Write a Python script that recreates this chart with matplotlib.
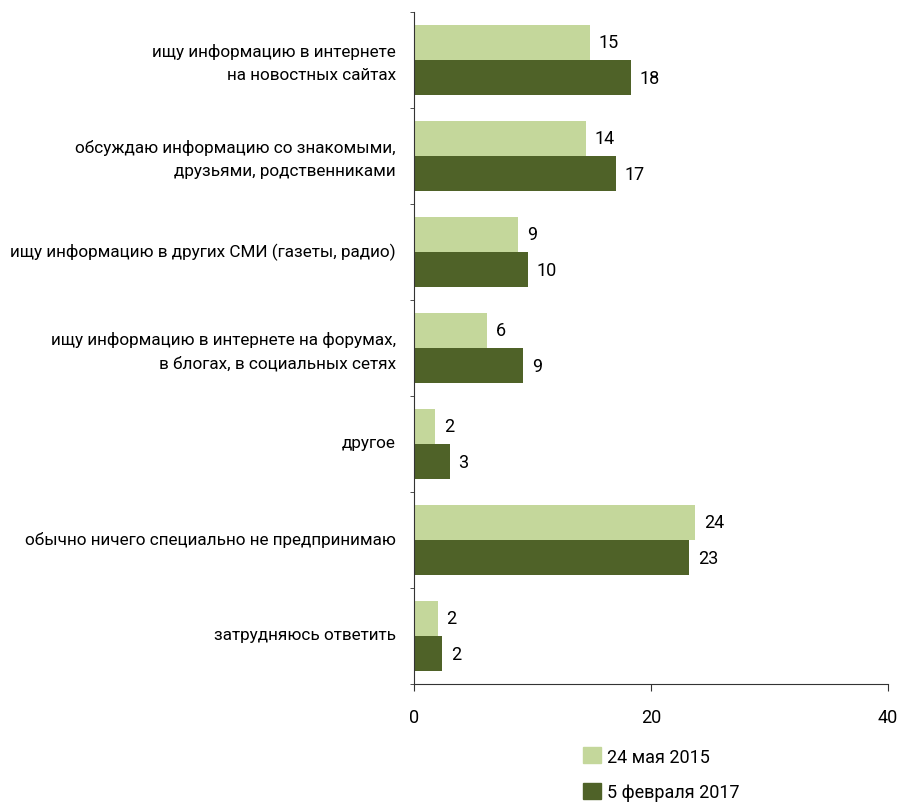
import matplotlib
matplotlib.use("Agg")
import matplotlib.pyplot as plt
import numpy as np
from matplotlib.patches import Patch

plt.rcParams['font.family'] = ['Roboto', 'DejaVu Sans']

categories = [
    "ищу информацию в интернете\nна новостных сайтах",
    "обсуждаю информацию со знакомыми,\nдрузьями, родственниками",
    "ищу информацию в других СМИ (газеты, радио)",
    "ищу информацию в интернете на форумах,\nв блогах, в социальных сетях",
    "другое",
    "обычно ничего специально не предпринимаю",
    "затрудняюсь ответить",
]
# bar lengths, labels are the rounded values
vals_2015 = [14.85, 14.5, 8.8, 6.2, 1.8, 23.7, 2.0]
vals_2017 = [18.3, 17.05, 9.6, 9.2, 3.0, 23.2, 2.4]
labels_2015 = [15, 14, 9, 6, 2, 24, 2]
labels_2017 = [18, 17, 10, 9, 3, 23, 2]
series_names = ["24 мая 2015", "5 февраля 2017"]
xticks = [0, 20, 40]

light = "#C4D79B"
dark = "#4F6228"

fig = plt.figure(figsize=(8.99, 8.03), dpi=100)
ax = fig.add_axes([414/899, 1-685/803, (888-414)/899, (685-13)/803])

y = np.arange(len(categories))
h = 0.365
ax.barh(y - h/2, vals_2015, height=h, color=light)
ax.barh(y + h/2, vals_2017, height=h, color=dark)

for yi, v, l in zip(y, vals_2015, labels_2015):
    ax.text(v + 0.75, yi - h/2, str(l), va='center', ha='left', fontsize=13)
for yi, v, l in zip(y, vals_2017, labels_2017):
    ax.text(v + 0.75, yi + h/2, str(l), va='center', ha='left', fontsize=13)

ax.set_xlim(0, 40)
ax.set_ylim(len(categories) - 0.5, -0.5)
ax.set_xticks(xticks)
ax.set_xticklabels([str(t) for t in xticks], fontsize=13)
ax.tick_params(axis='x', length=5, pad=12, color='#333333')

ax.set_yticks(y - 0.03)
ax.set_yticklabels(categories, fontsize=12.3, linespacing=1.65)
ax.set_yticks(np.arange(len(categories) + 1) - 0.5, minor=True)
ax.tick_params(axis='y', which='major', length=0, pad=13)
ax.tick_params(axis='y', which='minor', length=3, color='#333333')

for s in ['top', 'right']:
    ax.spines[s].set_visible(False)
for s in ['left', 'bottom']:
    ax.spines[s].set_color('#333333')

handles = [Patch(color=light), Patch(color=dark)]
fig.legend(handles, series_names, loc='upper left',
           bbox_to_anchor=(567/899, 1-732/803), frameon=False,
           fontsize=13, handlelength=1.0, handleheight=1.0,
           handletextpad=0.3, labelspacing=0.95)

fig.savefig("out.png", dpi=100)
